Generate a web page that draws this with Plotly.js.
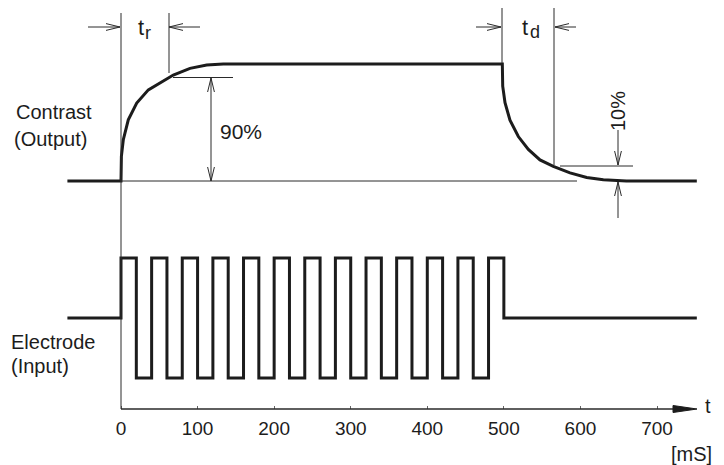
<!DOCTYPE html>
<html><head><meta charset="utf-8">
<script src="https://cdn.plot.ly/plotly-3.0.1.min.js"></script>
<style>html,body{margin:0;padding:0;background:#fff;}#chart{width:724px;height:465px;}</style>
</head><body><div id="chart"></div>
<script>
// ---- data (time in ms) ----
const contrastT = [-70, 0, 0.5, 3, 9.5, 20.5, 35.7, 53.2, 68.3, 90.1, 111.9, 133.6, 498, 498.5, 501.5, 508, 518.9, 532, 547.2, 564.6, 586.4, 608.2, 629.9, 660, 752];
const contrastV = [0, 0, 0.21, 0.353, 0.523, 0.666, 0.779, 0.849, 0.906, 0.963, 0.991, 1.0, 1.0, 0.81, 0.67, 0.52, 0.38, 0.27, 0.18, 0.125, 0.07, 0.03, 0.01, 0, 0];
const pulseOn  = [0, 40, 80, 120, 160, 200, 240, 280, 320, 360, 400, 440, 480];
const pulseOff = [20, 60, 100, 140, 180, 220, 260, 300, 340, 380, 420, 460, 500];
const electrodeHigh = 1, electrodeLow = -1, electrodeBase = 0;
const electrodeStart = -70, electrodeEnd = 752;
const tickVals = [0, 100, 200, 300, 400, 500, 600, 700];
const tickText = ['0', '100', '200', '300', '400', '500', '600', '700'];
const labelContrast = ['Contrast', '(Output)'];
const labelElectrode = ['Electrode', '(Input)'];

// build electrode step trace from pulse edges
const eT = [electrodeStart, pulseOn[0]], eV = [electrodeBase, electrodeBase];
for (let i = 0; i < pulseOn.length; i++) {
  eT.push(pulseOn[i]); eV.push(electrodeHigh);
  eT.push(pulseOff[i]); eV.push(electrodeHigh);
  const last = i === pulseOn.length - 1;
  eT.push(pulseOff[i]); eV.push(last ? electrodeBase : electrodeLow);
  if (!last) { eT.push(pulseOn[i + 1]); eV.push(electrodeLow); }
}
eT.push(electrodeEnd); eV.push(electrodeBase);

// ---- layout helpers (pixel positions -> paper) ----
const W = 724, H = 465;
const PX = x => x / W, PY = y => 1 - y / H;
const ink = '#1c1c1c', thin = '#2a2a2a';
const FONT = 'Liberation Sans, Arial, sans-serif';
const shapes = [], annotations = [];
function seg(x0, y0, x1, y1, w) {
  shapes.push({type: 'line', xref: 'paper', yref: 'paper', x0: PX(x0), y0: PY(y0), x1: PX(x1), y1: PY(y1),
    line: {color: thin, width: w || 1}});
}
function arrow(xt, yt, xh, yh, L, Hw) {
  L = L || 14; Hw = Hw || 3.4;
  seg(xt, yt, xh, yh);
  const len = Math.hypot(xh - xt, yh - yt), dx = (xh - xt) / len, dy = (yh - yt) / len;
  const px = -dy, py = dx;
  const a1x = -L * dx + Hw * px, a1y = -L * dy + Hw * py;
  const a2x = -L * dx - Hw * px, a2y = -L * dy - Hw * py;
  shapes.push({type: 'path', xref: 'paper', yref: 'paper', xsizemode: 'pixel', ysizemode: 'pixel',
    xanchor: PX(xh), yanchor: PY(yh),
    path: `M ${a1x},${-a1y} L 0,0 L ${a2x},${-a2y}`, line: {color: thin, width: 1}});
}
function txt(text, x, y, xanchor, size, angle) {
  annotations.push({text: text, xref: 'paper', yref: 'paper', x: PX(x), y: PY(y), xanchor: xanchor || 'left',
    yanchor: 'middle', showarrow: false, textangle: angle || 0, font: {family: FONT, size: size || 20, color: ink}});
}

// reference vertical at t=0 and time axis
seg(121, 13, 121, 409);
seg(121, 409, 680, 409, 1.4);
shapes.push({type: 'path', xref: 'paper', yref: 'paper', xsizemode: 'pixel', ysizemode: 'pixel',
  xanchor: PX(697), yanchor: PY(409), path: 'M -24,-3.5 L 0,0 L -24,3.5 Z',
  fillcolor: ink, line: {color: ink, width: 1}});
// baseline reference
seg(121, 181, 577, 181);
// t_r markers
arrow(88, 27, 120, 27);
arrow(200, 27, 169, 27);
seg(169, 13, 169, 73);
seg(173, 77.5, 233, 77.5);
arrow(211, 130, 211, 78);
arrow(211, 130, 211, 181);
// t_d markers
seg(502, 8, 502, 63);
seg(554, 8, 554, 165);
arrow(476, 27, 501, 27);
arrow(576, 27, 555, 27);
// 10% markers
seg(560, 166, 633, 166);
arrow(618, 130, 618, 165);
arrow(618, 218, 618, 182);

// texts
txt(labelContrast[0], 14, 112);
txt(labelContrast[1], 12, 139);
txt(labelElectrode[0], 9, 342);
txt(labelElectrode[1], 9, 366);
txt('t', 136, 27, 'left', 22);
txt('r', 143, 33, 'left', 18);
txt('t', 520, 27, 'left', 22);
txt('d', 528, 32, 'left', 18);
txt('90%', 218, 131, 'left', 21);
txt('10%', 618, 111, 'center', 20, -90);
txt('t', 703, 406, 'left', 20);
txt('[mS]', 669, 454, 'left', 20);

const traces = [
  {x: contrastT, y: contrastV, type: 'scatter', mode: 'lines', yaxis: 'y',
   line: {color: ink, width: 3}, hoverinfo: 'skip'},
  {x: eT, y: eV, type: 'scatter', mode: 'lines', yaxis: 'y2',
   line: {color: ink, width: 3}, hoverinfo: 'skip'}
];

const layout = {
  width: W, height: H, margin: {l: 0, r: 0, t: 0, b: 0}, showlegend: false,
  paper_bgcolor: '#fff', plot_bgcolor: '#fff',
  xaxis: {range: [-158.03, 787.5], domain: [0, 1], anchor: 'free', position: PY(409),
    showline: false, showgrid: false, zeroline: false,
    tickvals: tickVals, ticktext: tickText, ticks: 'inside', ticklen: 3, tickcolor: '#666', tickwidth: 1,
    ticklabelstandoff: 6,
    tickfont: {family: FONT, size: 19, color: ink}, fixedrange: true},
  yaxis: {range: [-2.427, 1.547], domain: [0, 1], visible: false, fixedrange: true},
  yaxis2: {range: [-2.45, 5.3], domain: [0, 1], overlaying: 'y', visible: false, fixedrange: true},
  shapes: shapes, annotations: annotations
};
Plotly.newPlot('chart', traces, layout, {staticPlot: true, displayModeBar: false});
</script></body></html>
